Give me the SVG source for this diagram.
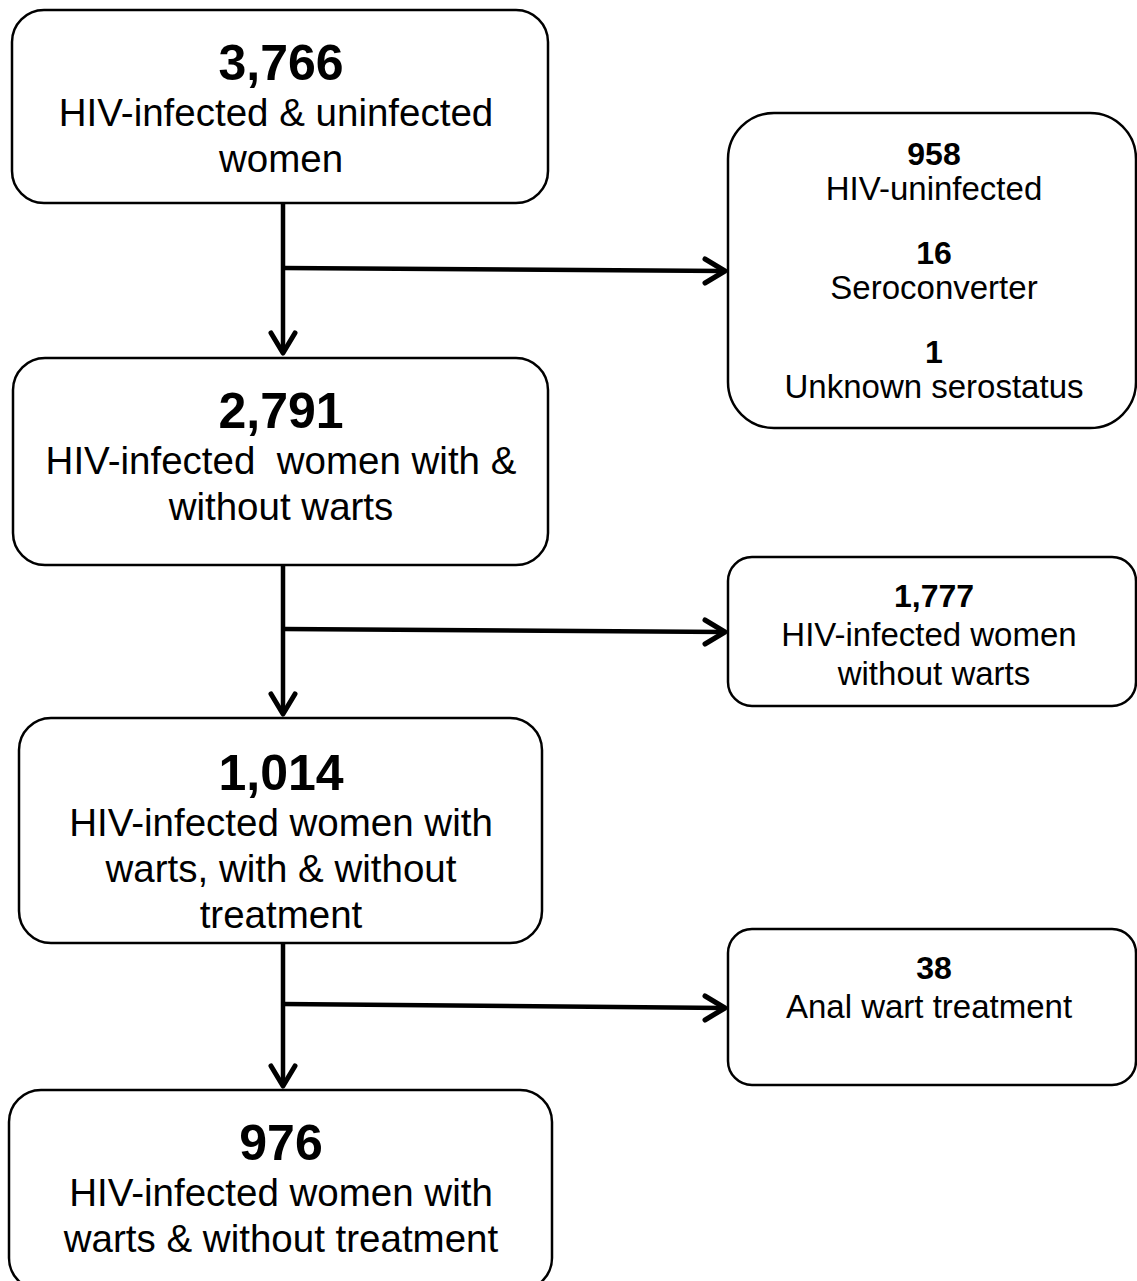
<svg xmlns="http://www.w3.org/2000/svg" width="1137" height="1281" viewBox="0 0 1137 1281">
<defs>
<style>
.box{fill:#fff;stroke:#000;stroke-width:2.5}
.num{font-family:"Liberation Sans",Arial,sans-serif;font-weight:bold;font-size:50px;text-anchor:middle;fill:#000}
.lbl{font-family:"Liberation Sans",Arial,sans-serif;font-size:38.5px;text-anchor:middle;fill:#000}
.snum{font-family:"Liberation Sans",Arial,sans-serif;font-weight:bold;font-size:32px;text-anchor:middle;fill:#000}
.slbl{font-family:"Liberation Sans",Arial,sans-serif;font-size:33px;text-anchor:middle;fill:#000}
.ln{fill:none;stroke:#000;stroke-width:4.5}
.ah{fill:none;stroke:#000;stroke-width:5;stroke-linecap:round;stroke-linejoin:round}
</style>
</defs>
<rect width="1137" height="1281" fill="#fff"/>
<g id="connectors">
<line class="ln" x1="283" y1="203" x2="283" y2="353"/>
<polyline class="ah" points="271,333 283,353 295,333"/>
<line class="ln" x1="283" y1="268" x2="725" y2="271"/>
<polyline class="ah" points="705,259 725,271 705,283"/>
<line class="ln" x1="283" y1="565" x2="283" y2="714"/>
<polyline class="ah" points="271,694 283,714 295,694"/>
<line class="ln" x1="283" y1="629" x2="725" y2="632"/>
<polyline class="ah" points="705,620 725,632 705,644"/>
<line class="ln" x1="283" y1="943" x2="283" y2="1086"/>
<polyline class="ah" points="271,1066 283,1086 295,1066"/>
<line class="ln" x1="283" y1="1004" x2="725" y2="1008"/>
<polyline class="ah" points="705,996 725,1008 705,1020"/>
</g>
<g id="n1">
<rect class="box" x="12" y="10" width="536" height="193" rx="32"/>
<text class="num" x="281" y="80">3,766</text>
<text class="lbl" x="276" y="126">HIV-infected &amp; uninfected</text>
<text class="lbl" x="281" y="172">women</text>
</g>
<g id="n2">
<rect class="box" x="728" y="113" width="408" height="315" rx="46"/>
<text class="snum" x="934" y="165">958</text>
<text class="slbl" x="934" y="200">HIV-uninfected</text>
<text class="snum" x="934" y="264">16</text>
<text class="slbl" x="934" y="299">Seroconverter</text>
<text class="snum" x="934" y="363">1</text>
<text class="slbl" x="934" y="398">Unknown serostatus</text>
</g>
<g id="n3">
<rect class="box" x="13" y="358" width="535" height="207" rx="32"/>
<text class="num" x="281" y="428">2,791</text>
<text class="lbl" x="281" y="474" xml:space="preserve">HIV-infected  women with &amp;</text>
<text class="lbl" x="281" y="520">without warts</text>
</g>
<g id="n4">
<rect class="box" x="728" y="557" width="408" height="149" rx="24"/>
<text class="snum" x="934" y="607">1,777</text>
<text class="slbl" x="929" y="646">HIV-infected women</text>
<text class="slbl" x="934" y="685">without warts</text>
</g>
<g id="n5">
<rect class="box" x="19" y="718" width="523" height="225" rx="32"/>
<text class="num" x="281" y="790">1,014</text>
<text class="lbl" x="281" y="836">HIV-infected women with</text>
<text class="lbl" x="281" y="882">warts, with &amp; without</text>
<text class="lbl" x="281" y="928">treatment</text>
</g>
<g id="n6">
<rect class="box" x="728" y="929" width="408" height="156" rx="24"/>
<text class="snum" x="934" y="979">38</text>
<text class="slbl" x="929" y="1018">Anal wart treatment</text>
</g>
<g id="n7">
<rect class="box" x="9" y="1090" width="543" height="200" rx="32"/>
<text class="num" x="281" y="1160">976</text>
<text class="lbl" x="281" y="1206">HIV-infected women with</text>
<text class="lbl" x="281" y="1252">warts &amp; without treatment</text>
</g>
</svg>
